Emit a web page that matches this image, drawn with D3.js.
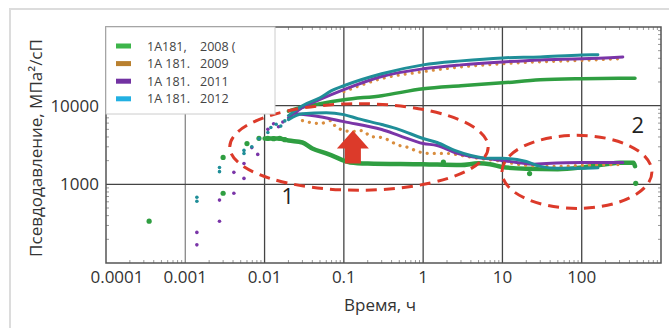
<!DOCTYPE html>
<html>
<head>
<meta charset="utf-8">
<script src="https://cdn.jsdelivr.net/npm/d3@7"></script>
<style>
  body { margin: 0; background: #fff; }
  svg { display: block; font-family: "Open Sans", sans-serif; }
</style>
</head>
<body>
<svg id="chart" width="669" height="328"></svg>
<script>
// legend
const seriesNames = ["1A181,", "1A 181.", "1A 181.", "1A 181."];
const seriesYears = ["2008 (", "2009", "2011", "2012"];
const legendColors = ["#3db54a", "#b9802f", "#7232a2", "#22b0e2"];
const lineColors = ["#2f9e41", "#d98d3e", "#7a35a8", "#1f8e98"];

// axis ticks
const xTicks = [0.0001, 0.001, 0.01, 0.1, 1, 10, 100];
const xTickLabels = ["0.0001", "0.001", "0.01", "0.1", "1", "10", "100"];
const yTicks = [1000, 10000];
const yTickLabels = ["1000", "10000"];

// 2008 (green)
const tP2008 = [0.02, 0.025, 0.05, 0.1, 0.3, 1, 3, 10, 30, 100, 470];
const vP2008 = [8500, 9170, 10600, 11900, 13400, 16400, 17900, 19500, 21300, 22000, 22300];
const tD2008 = [0.01, 0.015, 0.02, 0.03, 0.04, 0.06, 0.08, 0.1, 0.12, 0.2, 1, 3, 5, 7, 10, 20, 50, 100, 200, 300, 450, 470];
const vD2008 = [3820, 3820, 3600, 3400, 2860, 2470, 2200, 2000, 1900, 1840, 1800, 1760, 1850, 1800, 1660, 1580, 1560, 1640, 1800, 1880, 1880, 1700];
const tE2008 = [0.00035, 0.003, 0.003, 0.006, 0.0085, 0.011, 0.013, 0.0155, 0.018, 1.8, 22, 480];
const vE2008 = [340, 770, 2200, 3300, 3850, 3850, 3800, 3850, 3700, 1920, 1370, 1030];

// 2009 (orange, dotted)
const tP2009 = [0.1, 0.3, 1, 3, 10, 30, 100, 330];
const vP2009 = [15000, 22000, 27000, 31000, 34000, 36000, 37500, 39500];
const tD2009 = [0.03, 0.05, 0.07, 0.08, 0.13, 0.17, 0.22, 0.3, 0.5, 0.65, 0.85, 1.2, 2, 3, 5, 10, 20, 50, 100, 330];
const vD2009 = [6460, 5920, 6460, 5270, 4690, 4830, 4050, 3940, 3120, 2940, 2620, 2470, 2470, 2330, 2140, 1960, 1740, 1690, 1740, 1790];

// 2011 (purple)
const tP2011 = [0.02, 0.03, 0.05, 0.1, 0.3, 1, 3, 10, 30, 100, 330];
const vP2011 = [7000, 9500, 12000, 16000, 23500, 29400, 33000, 36000, 38200, 39400, 41600];
const tD2011 = [0.025, 0.05, 0.1, 0.3, 0.5, 1, 1.5, 2.5, 4, 8, 15, 25, 36, 100, 330];
const vD2011 = [7920, 7250, 6270, 4970, 4170, 3300, 3120, 2540, 2260, 2070, 1900, 1800, 1840, 1900, 1900];
const tE2011 = [0.0014, 0.0014, 0.0027, 0.0027, 0.0041, 0.0041, 0.0055, 0.0055, 0.0069, 0.0082, 0.011, 0.013, 0.015, 0.017];
const vE2011 = [245, 170, 630, 340, 770, 1420, 1190, 1840, 2930, 2400, 5000, 5900, 5400, 6200];

// 2012 (teal)
const tP2012 = [0.02, 0.03, 0.05, 0.07, 0.1, 0.3, 1, 3, 10, 30, 100, 160];
const vP2012 = [7470, 10000, 12600, 15500, 17900, 25400, 33000, 37100, 40500, 41700, 44200, 44500];
const tD2012 = [0.02, 0.03, 0.06, 0.1, 0.15, 0.3, 0.5, 1, 1.5, 2.5, 4, 7, 10, 20, 30, 50, 100, 160];
const vD2012 = [6650, 7920, 8150, 7690, 6850, 5750, 4970, 3820, 3400, 2700, 2330, 2140, 2140, 1950, 1690, 1600, 1600, 1620];
const tE2012 = [0.0014, 0.0014, 0.0027, 0.0027, 0.0055, 0.0055, 0.0069, 0.0085, 0.011, 0.012, 0.014, 0.016, 0.018];
const vE2012 = [685, 610, 1640, 1450, 2470, 2700, 3000, 3800, 4550, 5270, 5800, 5500, 6400];

// annotations (data coordinates, radii in decades)
const ellipseCentersT = [0.155, 87];
const ellipseCentersV = [2985, 1440];
const ellipseRxDec = [1.63, 0.946];
const ellipseRyDec = [0.55, 0.464];
const arrowTipT = 0.13, arrowTipV = 4830;
const noteLabels = ["1", "2"];
const noteT = [0.0197, 510];
const noteV = [560, 4430];

const svg = d3.select("#chart");
const margin = { left: 106, top: 27, right: 661, bottom: 263 };

const x = d3.scaleLog().domain([1e-4, 1e3]).range([margin.left, margin.right]);
const y = d3.scaleLog().domain([100, 1e5]).range([margin.bottom, margin.top]);

// outer panel frame
svg.append("rect").attr("x", 10).attr("y", 9).attr("width", 700).attr("height", 340)
  .attr("fill", "none").attr("stroke", "#dcdcdc").attr("stroke-width", 2);

// minor ticks (inward)
const minorX = [];
for (let e = -4; e < 3; e++) for (let k = 2; k <= 9; k++) minorX.push(k * Math.pow(10, e));
const minorY = [];
for (let e = 2; e < 5; e++) for (let k = 2; k <= 9; k++) minorY.push(k * Math.pow(10, e));
const ticks = svg.append("g").attr("stroke", "#999").attr("stroke-width", 1);
minorX.forEach(t => {
  ticks.append("line").attr("x1", x(t)).attr("x2", x(t)).attr("y1", margin.bottom).attr("y2", margin.bottom - 3);
  ticks.append("line").attr("x1", x(t)).attr("x2", x(t)).attr("y1", margin.top).attr("y2", margin.top + 3);
});
minorY.forEach(v => {
  ticks.append("line").attr("x1", margin.left).attr("x2", margin.left + 3).attr("y1", y(v)).attr("y2", y(v));
  ticks.append("line").attr("x1", margin.right).attr("x2", margin.right - 3).attr("y1", y(v)).attr("y2", y(v));
});

// grid
const grid = svg.append("g").attr("stroke", "#444").attr("stroke-width", 1.3);
xTicks.slice(1).forEach(t => {
  grid.append("line").attr("x1", x(t)).attr("x2", x(t)).attr("y1", margin.top).attr("y2", margin.bottom)
    .attr("stroke", t === 0.001 ? "#888" : "#444");
});
yTicks.forEach(v => {
  grid.append("line").attr("x1", margin.left).attr("x2", margin.right).attr("y1", y(v)).attr("y2", y(v));
});

// plot border
svg.append("rect").attr("x", margin.left).attr("y", margin.top)
  .attr("width", margin.right - margin.left).attr("height", margin.bottom - margin.top)
  .attr("fill", "none").attr("stroke", "#555").attr("stroke-width", 1.5);

// tick labels
svg.append("g").selectAll("text").data(xTicks).join("text")
  .attr("x", (d, i) => x(d) + (i === 0 ? 11 : 0)).attr("y", 283)
  .attr("text-anchor", "middle").attr("font-size", 17).attr("fill", "#333")
  .text((d, i) => xTickLabels[i]);
svg.append("g").selectAll("text").data(yTicks).join("text")
  .attr("x", margin.left - 7).attr("y", d => y(d) + 6)
  .attr("text-anchor", "end").attr("font-size", 17).attr("fill", "#333")
  .text((d, i) => yTickLabels[i]);

// axis titles
svg.append("text").attr("x", 380).attr("y", 311).attr("text-anchor", "middle")
  .attr("font-size", 17).attr("fill", "#333").text("Время, ч");
svg.append("text").attr("transform", "translate(42,148) rotate(-90)").attr("text-anchor", "middle")
  .attr("font-size", 17).attr("fill", "#333").text("Псевдодавление, МПа²/сП");

// data
const line = d3.line().x(d => x(d[0])).y(d => y(d[1])).curve(d3.curveMonotoneX);
const zip = (a, b) => a.map((d, i) => [d, b[i]]);
const plot = svg.append("g");

function drawCurve(ts, vs, color, width, dotted) {
  const p = plot.append("path").datum(zip(ts, vs)).attr("d", line)
    .attr("fill", "none").attr("stroke", color).attr("stroke-width", width)
    .attr("stroke-linecap", "round").attr("stroke-linejoin", "round");
  if (dotted) p.attr("stroke-dasharray", "0.1,7");
}
function drawDots(ts, vs, color, r) {
  plot.append("g").selectAll("circle").data(zip(ts, vs)).join("circle")
    .attr("cx", d => x(d[0])).attr("cy", d => y(d[1])).attr("r", r).attr("fill", color);
}

drawCurve(tP2008, vP2008, lineColors[0], 3.5);
drawCurve(tD2008, vD2008, lineColors[0], 4.5);
drawDots(tE2008, vE2008, lineColors[0], 2.6);
drawCurve(tP2009, vP2009, lineColors[1], 3, true);
drawCurve(tD2009, vD2009, lineColors[1], 3.2, true);
drawCurve(tP2011, vP2011, lineColors[2], 3);
drawCurve(tD2011, vD2011, lineColors[2], 3);
drawDots(tE2011, vE2011, lineColors[2], 1.8);
drawCurve(tP2012, vP2012, lineColors[3], 3);
drawCurve(tD2012, vD2012, lineColors[3], 3);
drawDots(tE2012, vE2012, lineColors[3], 1.8);

// annotations
const red = "#dc3a2a";
ellipseCentersT.forEach((t, i) => {
  const cx = x(t), cy = y(ellipseCentersV[i]);
  svg.append("ellipse").attr("cx", cx).attr("cy", cy)
    .attr("rx", x(t * Math.pow(10, ellipseRxDec[i])) - cx)
    .attr("ry", cy - y(ellipseCentersV[i] * Math.pow(10, ellipseRyDec[i])))
    .attr("fill", "none").attr("stroke", red).attr("stroke-width", 3)
    .attr("stroke-dasharray", "11,7");
});
const ax = x(arrowTipT), ay = y(arrowTipV);
svg.append("path")
  .attr("d", `M${ax},${ay} l16,18 h-8 v15 h-16 v-15 h-8 Z`)
  .attr("fill", red);
noteLabels.forEach((s, i) => {
  svg.append("text").attr("x", x(noteT[i])).attr("y", y(noteV[i]))
    .attr("text-anchor", "middle").attr("font-size", 22).attr("fill", "#222").text(s);
});

// legend
const lg = svg.append("g");
lg.append("rect").attr("x", margin.left).attr("y", margin.top).attr("width", 169).attr("height", 87)
  .attr("fill", "#fff").attr("stroke", "#ccc").attr("stroke-width", 1);
seriesNames.forEach((n, i) => {
  const ry = 46 + i * 17.6;
  lg.append("rect").attr("x", 116).attr("y", ry - 2.5).attr("width", 15).attr("height", 5)
    .attr("fill", legendColors[i]);
  lg.append("text").attr("x", 147).attr("y", ry + 4.5).attr("font-size", 12.5).attr("fill", "#444").text(n);
  lg.append("text").attr("x", 200).attr("y", ry + 4.5).attr("font-size", 12.5).attr("fill", "#444").text(seriesYears[i]);
});
</script>
</body>
</html>
